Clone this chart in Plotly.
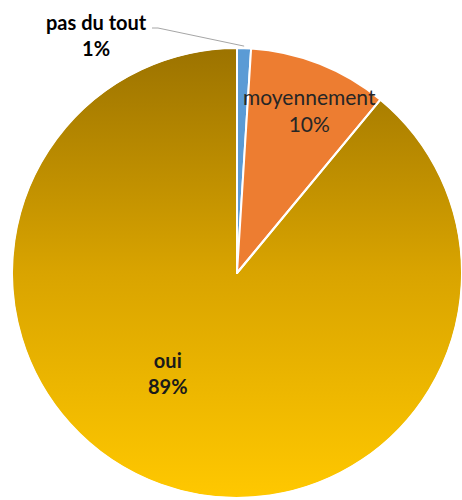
import base64
import math
import plotly.graph_objects as go

# ---- data ----
labels = ["pas du tout", "moyennement", "oui"]
values = [1, 10, 89]
colors = ["#5B9BD5", "#ED7D31", "rgba(0,0,0,0)"]
pct_text = ["1%", "10%", "89%"]

W, H = 462, 500
CX, CY, R = 237, 273, 225  # pixel geometry of the pie

fig = go.Figure()
fig.add_trace(go.Pie(
    labels=labels,
    values=values,
    sort=False,
    direction="clockwise",
    rotation=0,
    marker=dict(colors=colors, line=dict(color="white", width=2)),
    textinfo="none",
    hoverinfo="label+percent",
    showlegend=False,
    domain=dict(x=[(CX - R) / W, (CX + R) / W], y=[(H - CY - R) / H, (H - CY + R) / H]),
))

# gradient fill for the 'oui' slice (circle image under the transparent slice)
svg = (
    '<svg xmlns="http://www.w3.org/2000/svg" width="400" height="400" viewBox="0 0 400 400">'
    '<defs><linearGradient id="g" x1="0" y1="0" x2="0" y2="1">'
    '<stop offset="0" stop-color="#9C7300"/>'
    '<stop offset="0.5" stop-color="#D9A400"/>'
    '<stop offset="1" stop-color="#FFC800"/>'
    '</linearGradient></defs>'
    '<circle cx="200" cy="200" r="199.5" fill="url(#g)"/></svg>'
)
src = "data:image/svg+xml;base64," + base64.b64encode(svg.encode()).decode()
fig.add_layout_image(dict(
    source=src, xref="paper", yref="paper",
    x=(CX - R) / W, y=(H - CY + R) / H,
    sizex=2 * R / W, sizey=2 * R / H,
    xanchor="left", yanchor="top", sizing="stretch", layer="below",
))

# leader line for the small slice (ends at mid-angle of first slice)
total = sum(values)
mid_angle = math.radians(values[0] / total * 360 / 2)
px = CX + (R + 2) * math.sin(mid_angle)
py = CY - (R + 2) * math.cos(mid_angle)


def P(x, y):
    return f"{x / W:.5f},{1 - y / H:.5f}"


fig.add_shape(
    type="path", xref="paper", yref="paper",
    path=f"M {P(152, 28)} L {P(158, 28)} L {P(px, py)}",
    line=dict(color="#A6A6A6", width=1), layer="above",
)

font_family = "Lato, 'Open Sans', sans-serif"
fig.add_annotation(
    x=96 / W, y=1 - 35 / H, xref="paper", yref="paper",
    xanchor="center", yanchor="middle",
    text=f"<b>{labels[0]}</b><br><b>{pct_text[0]}</b>", showarrow=False,
    font=dict(family=font_family, size=20, color="#000000"), align="center",
)
fig.add_annotation(
    x=309 / W, y=1 - 110 / H, xref="paper", yref="paper",
    xanchor="center", yanchor="middle",
    text=f"{labels[1]}<br>{pct_text[1]}", showarrow=False,
    font=dict(family=font_family, size=21, color="#262626"), align="center",
)
fig.add_annotation(
    x=168 / W, y=1 - 373 / H, xref="paper", yref="paper",
    xanchor="center", yanchor="middle",
    text=f"<b>{labels[2]}</b><br><b>{pct_text[2]}</b>", showarrow=False,
    font=dict(family=font_family, size=20, color="#1A1A1A"), align="center",
)

fig.update_layout(
    width=W, height=H,
    margin=dict(l=0, r=0, t=0, b=0),
    paper_bgcolor="white", plot_bgcolor="white",
)
fig.write_html(
    "out.html",
    config={"displayModeBar": False},
    post_script="document.body.style.margin='0';document.body.style.overflow='hidden';",
)
